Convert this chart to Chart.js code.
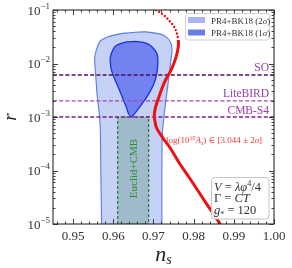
<!DOCTYPE html>
<html>
<head>
<meta charset="utf-8">
<script src="https://cdn.jsdelivr.net/npm/chart.js@4"></script>
<style>
html, body { margin: 0; padding: 0; background: #fff; }
#wrap { width: 292px; height: 268px; }
</style>
</head>
<body>
<div id="wrap"><canvas id="c" width="292" height="268"></canvas></div>
<script>
// axis ticks
const nsTicks = [0.95, 0.96, 0.97, 0.98, 0.99, 1.00];
const rTicks = [1e-5, 1e-4, 1e-3, 1e-2, 1e-1];

// PR4+BK18 2 sigma contour (closed outline, ns / r)
const sigma2Ns = [0.9572, 0.9571, 0.9569, 0.9568, 0.9566, 0.9560, 0.9557, 0.9554, 0.9554, 0.9558, 0.9567, 0.9580, 0.9592, 0.9610, 0.9629, 0.9655, 0.9681, 0.9705, 0.9724, 0.9739, 0.9745, 0.9746, 0.9743, 0.9739, 0.9735, 0.9731, 0.9726, 0.9722, 0.9721, 0.9721, 0.9721];
const sigma2R = [3e-6, 1e-5, 1e-4, 5e-4, 1e-3, 2.5e-3, 5e-3, 1e-2, 1.3e-2, 1.8e-2, 2.6e-2, 3.0e-2, 3.25e-2, 3.5e-2, 3.7e-2, 3.85e-2, 3.9e-2, 3.7e-2, 3.4e-2, 2.75e-2, 2.2e-2, 1.6e-2, 1.1e-2, 6.2e-3, 3.5e-3, 2.1e-3, 1e-3, 4.8e-4, 1e-4, 1e-5, 3e-6];

// PR4+BK18 1 sigma contour
const sigma1Ns = [0.9592, 0.9596, 0.9604, 0.9612, 0.9622, 0.9634, 0.9646, 0.9660, 0.9671, 0.9687, 0.9699, 0.9709, 0.9711, 0.9708, 0.9701, 0.9691, 0.9681, 0.9671, 0.9656, 0.9646, 0.9638, 0.9633, 0.9625, 0.9617, 0.9608, 0.9599, 0.9594, 0.9592];
const sigma1R = [1.26e-2, 1.6e-2, 2.06e-2, 2.25e-2, 2.4e-2, 2.53e-2, 2.57e-2, 2.57e-2, 2.5e-2, 2.3e-2, 1.95e-2, 1.5e-2, 1.07e-2, 6.2e-3, 4.2e-3, 2.95e-3, 2.2e-3, 1.74e-3, 1.23e-3, 1.02e-3, 1.15e-3, 1.48e-3, 2.1e-3, 2.95e-3, 4.3e-3, 6.2e-3, 8.5e-3, 1.26e-2];

// Euclid+CMB forecast box
const euclidNs = [0.9611, 0.9611, 0.9688, 0.9688, 0.9611];
const euclidR = [1e-5, 1e-3, 1e-3, 1e-5, 1e-5];

// model prediction, V = lambda phi^4 / 4 (dotted part outside the As window)
const modelDotNs = [0.9706, 0.9719, 0.9731, 0.9742, 0.9752, 0.9758, 0.9762];
const modelDotR = [1e-1, 8.8e-2, 7.4e-2, 6.0e-2, 4.8e-2, 3.7e-2, 2.75e-2];
const modelNs = [0.9762, 0.9762, 0.9756, 0.9744, 0.9727, 0.9713, 0.9705, 0.9702, 0.9704, 0.9708, 0.9724, 0.9742, 0.9765, 0.9789, 0.9826, 0.9866, 0.9872];
const modelR = [2.75e-2, 2.1e-2, 1.3e-2, 7.6e-3, 4.4e-3, 2.3e-3, 1.5e-3, 1.05e-3, 8.1e-4, 6.2e-4, 4.0e-4, 2.6e-4, 1.35e-4, 7.4e-5, 2.8e-5, 1e-5, 8e-6];

// experiment sensitivities
const expNames = ['SO', 'LiteBIRD', 'CMB-S4'];
const expR = [6.1e-3, 2.0e-3, 1.0e-3];
const expColors = ['#4b0f5c', '#a347b3', '#7f1f8f'];

const SERIF = "'Liberation Serif', 'DejaVu Serif', serif";
Chart.defaults.font.family = SERIF;

function pts(xs, ys) { return xs.map((v, i) => ({ x: v, y: ys[i] })); }
function font(size, it) { return (it ? 'italic ' : '') + size + 'px ' + SERIF; }

function rich(ctx, x, y, parts, base, align) {
    let w = 0;
    parts.forEach(p => { ctx.font = font(p.s || base, p.i); w += ctx.measureText(p.t).width; });
    let cx = align === 'right' ? x - w : (align === 'center' ? x - w / 2 : x);
    ctx.textAlign = 'left';
    ctx.textBaseline = 'alphabetic';
    parts.forEach(p => {
        ctx.font = font(p.s || base, p.i);
        ctx.fillText(p.t, cx, y + (p.dy || 0));
        cx += ctx.measureText(p.t).width;
    });
}

function rrect(ctx, x, y, w, h, r) {
    ctx.beginPath();
    if (ctx.roundRect) ctx.roundRect(x, y, w, h, r);
    else ctx.rect(x, y, w, h);
}

const datasets = [
    {
        data: pts(modelNs, modelR), showLine: true, pointRadius: 0, tension: 0.35,
        borderColor: '#ee1111', borderWidth: 3, fill: false
    },
    {
        data: pts(modelDotNs, modelDotR), showLine: true, pointRadius: 0, tension: 0.3,
        borderColor: '#ee1111', borderWidth: 2.4, borderDash: [0, 3.6], borderCapStyle: 'round', fill: false
    }
];
expNames.forEach((n, i) => {
    datasets.push({
        data: pts([0.945, 1.0], [expR[i], expR[i]]), showLine: true, pointRadius: 0,
        borderColor: expColors[i], borderWidth: 1.3, borderDash: [4, 2.2], fill: false
    });
});
datasets.push(
    {
        data: pts(sigma1Ns, sigma1R), showLine: true, pointRadius: 0, tension: 0.25,
        borderColor: '#1a2fe6', borderWidth: 1.3, backgroundColor: '#7283f1', fill: 'shape'
    },
    {
        data: pts(euclidNs, euclidR), showLine: true, pointRadius: 0,
        borderColor: '#2a7a2a', borderWidth: 1.2, borderDash: [3, 2], backgroundColor: '#9fbacb', fill: 'shape'
    },
    {
        data: pts(sigma2Ns, sigma2R), showLine: true, pointRadius: 0, tension: 0.25,
        borderColor: '#5a7be6', borderWidth: 1.1, backgroundColor: '#c6d1f6', fill: 'shape'
    }
);

const decor = {
    id: 'decor',
    afterDraw(chart) {
        const { ctx, chartArea: a, scales } = chart;
        const x = scales.x, y = scales.y;
        ctx.save();

        // frame and inward ticks
        ctx.strokeStyle = '#2a2a2a';
        ctx.lineWidth = 1.1;
        ctx.strokeRect(a.left, a.top, a.right - a.left, a.bottom - a.top);
        ctx.lineWidth = 0.9;
        ctx.beginPath();
        for (let k = 473; k <= 500; k++) {
            const px = Math.round(x.getPixelForValue(k * 0.002)) + 0.5;
            const len = k % 5 === 0 ? 5 : 2.5;
            ctx.moveTo(px, a.bottom); ctx.lineTo(px, a.bottom - len);
            ctx.moveTo(px, a.top); ctx.lineTo(px, a.top + len);
        }
        for (let e = -5; e <= -1; e++) {
            for (let m = 1; m <= 9; m++) {
                if (e === -1 && m > 1) break;
                const py = Math.round(y.getPixelForValue(m * Math.pow(10, e))) + 0.5;
                const len = m === 1 ? 5 : 2.5;
                ctx.moveTo(a.left, py); ctx.lineTo(a.left + len, py);
                ctx.moveTo(a.right, py); ctx.lineTo(a.right - len, py);
            }
        }
        ctx.stroke();

        // y tick labels 10^n
        ctx.fillStyle = '#333';
        rTicks.forEach(v => {
            const ex = Math.round(Math.log10(v));
            const py = y.getPixelForValue(v);
            rich(ctx, 50, py + 4.5, [{ t: '10' }, { t: '\u2212' + Math.abs(ex), s: 9, dy: -6 }], 13, 'right');
        });

        // axis titles
        ctx.fillStyle = '#222';
        ctx.save();
        ctx.translate(16, 117);
        ctx.rotate(-Math.PI / 2);
        ctx.font = font(19, true);
        ctx.textAlign = 'center';
        ctx.textBaseline = 'alphabetic';
        ctx.fillText('r', 0, 0);
        ctx.restore();
        rich(ctx, (a.left + a.right) / 2, 261, [{ t: 'n', i: 1 }, { t: 's', s: 14, i: 1, dy: 3 }], 22, 'center');

        // experiment labels
        ctx.fillStyle = '#9440a4';
        expNames.forEach((n, i) => {
            const py = y.getPixelForValue(expR[i]);
            rich(ctx, a.right - 5, py - 3.5, [{ t: n }], 11.5, 'right');
        });

        // Euclid+CMB, rotated
        ctx.save();
        ctx.fillStyle = '#2e8b2e';
        ctx.translate(x.getPixelForValue((euclidNs[0] + euclidNs[2]) / 2) + 4, y.getPixelForValue(1e-4) - 2);
        ctx.rotate(-Math.PI / 2);
        rich(ctx, 0, 0, [{ t: 'Euclid+CMB' }], 11, 'center');
        ctx.restore();

        // As window label
        ctx.fillStyle = '#f03a3a';
        rich(ctx, 166, 143, [
            { t: 'log(10' }, { t: '10', s: 6, dy: -3.5 }, { t: 'A', i: 1 }, { t: 's', s: 6, i: 1, dy: 1.5 },
            { t: ') \u2208 [3.044 \u00b1 2' }, { t: '\u03c3', i: 1 }, { t: ']' }
        ], 9, 'left');

        // legend
        ctx.fillStyle = 'rgba(255,255,255,0.85)';
        ctx.strokeStyle = '#d0d0d0';
        ctx.lineWidth = 1;
        rrect(ctx, 185.5, 13.5, 84, 26.5, 2.5);
        ctx.fill(); ctx.stroke();
        ctx.fillStyle = '#aab4f7';
        ctx.fillRect(188, 17, 17, 6);
        ctx.fillStyle = '#6a7fe6';
        ctx.fillRect(188, 29.5, 17, 6);
        ctx.fillStyle = '#333';
        rich(ctx, 211, 23.5, [{ t: 'PR4+BK18 (2' }, { t: '\u03c3', i: 1 }, { t: ')' }], 9, 'left');
        rich(ctx, 211, 36, [{ t: 'PR4+BK18 (1' }, { t: '\u03c3', i: 1 }, { t: ')' }], 9, 'left');

        // model box
        ctx.fillStyle = 'rgba(255,255,255,0.85)';
        ctx.strokeStyle = '#c4c4c4';
        rrect(ctx, 211.5, 177.5, 57.5, 41.5, 3);
        ctx.fill(); ctx.stroke();
        ctx.fillStyle = '#333';
        rich(ctx, 214, 191, [{ t: 'V', i: 1 }, { t: ' = ' }, { t: '\u03bb\u03c6', i: 1 }, { t: '4', s: 8, dy: -5 }, { t: '/4' }], 12.5, 'left');
        rich(ctx, 214, 202, [{ t: '\u0393 = ' }, { t: 'CT', i: 1 }], 12.5, 'left');
        rich(ctx, 214, 214, [{ t: 'g', i: 1 }, { t: '*', s: 8, dy: 2.5 }, { t: ' = 120' }], 12.5, 'left');

        ctx.restore();
    }
};

new Chart(document.getElementById('c'), {
    type: 'scatter',
    data: { datasets: datasets },
    options: {
        responsive: false,
        animation: false,
        devicePixelRatio: 1,
        layout: { padding: { left: 0, right: 18, top: 10, bottom: 0 } },
        plugins: { legend: { display: false }, tooltip: { enabled: false } },
        scales: {
            x: {
                type: 'linear', min: 0.945, max: 1.0,
                afterBuildTicks: s => { s.ticks = nsTicks.map(v => ({ value: v })); },
                afterFit: s => { s.height = 44; },
                ticks: {
                    font: { family: SERIF, size: 13 }, color: '#333', padding: 5,
                    maxRotation: 0, autoSkip: false,
                    callback: v => v.toFixed(2)
                },
                grid: { display: false, drawTicks: false },
                border: { display: false }
            },
            y: {
                type: 'logarithmic', min: 1e-5, max: 1e-1,
                afterFit: s => { s.width = 53; },
                ticks: { display: false },
                grid: { display: false, drawTicks: false },
                border: { display: false }
            }
        }
    },
    plugins: [decor]
});
</script>
</body>
</html>
